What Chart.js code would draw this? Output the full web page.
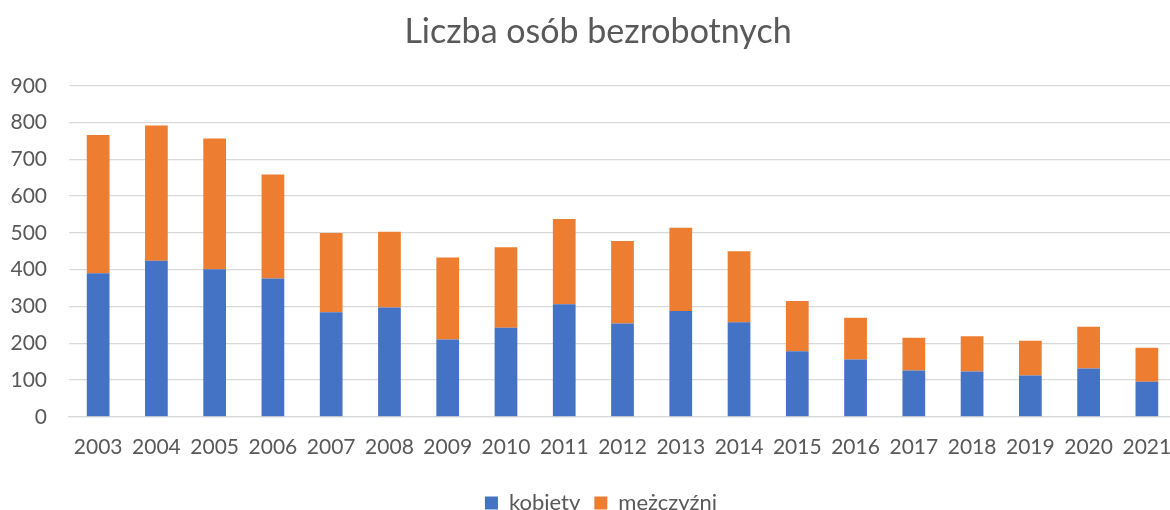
<!DOCTYPE html>
<html>
<head>
<meta charset="utf-8">
<script src="https://cdn.jsdelivr.net/npm/chart.js@4"></script>
<style>
  html, body { margin: 0; padding: 0; background: #fff; overflow: hidden; }
  #wrap { position: relative; width: 1176px; height: 524px; }
</style>
</head>
<body>
<div id="wrap"><canvas id="myChart" width="1176" height="524"></canvas></div>
<script>
const years = ['2003', '2004', '2005', '2006', '2007', '2008', '2009', '2010', '2011', '2012',
    '2013', '2014', '2015', '2016', '2017', '2018', '2019', '2020', '2021'];
const kobiety = [390, 424, 401, 376, 284, 297, 210, 242, 306, 254, 288, 257, 178, 156, 126, 123, 112, 131, 95];
const mezczyzni = [376, 368, 356, 283, 216, 206, 223, 219, 232, 224, 226, 193, 137, 113, 89, 96, 95, 114, 93];
const yMax = 900;
const yStep = 100;

const textColor = '#595959';
const fontFamily = 'Lato, "Open Sans", sans-serif';

// title and legend sit a bit right of the canvas centre in the original
const shiftBlocks = {
    id: 'shiftBlocks',
    afterLayout(chart) {
        if (chart.titleBlock) { chart.titleBlock.left += 20; }
        if (chart.legend) { chart.legend.left += 26; }
    }
};

const ctx = document.getElementById('myChart');
const myChart = new Chart(ctx, {
    type: 'bar',
    data: {
        labels: years,
        datasets: [
            {
                label: 'kobiety',
                data: kobiety,
                backgroundColor: '#4472C4',
                borderWidth: 0
            },
            {
                label: 'mężczyźni',
                data: mezczyzni,
                backgroundColor: '#ED7D31',
                borderWidth: 0
            }
        ]
    },
    options: {
        responsive: false,
        animation: false,
        devicePixelRatio: 1,
        categoryPercentage: 1,
        barPercentage: 0.39,
        plugins: {
            title: {
                display: true,
                text: 'Liczba osób bezrobotnych',
                color: textColor,
                font: { family: fontFamily, size: 34, weight: 'normal' },
                padding: { top: 12, bottom: 33 }
            },
            legend: {
                position: 'bottom',
                labels: {
                    color: textColor,
                    font: { family: fontFamily, size: 22 },
                    boxWidth: 13,
                    boxHeight: 13,
                    padding: 14
                }
            },
            tooltip: { enabled: false }
        },
        scales: {
            x: {
                stacked: true,
                grid: { display: false, drawTicks: false },
                border: { display: true, color: '#d9d9d9', width: 1.3 },
                ticks: {
                    color: textColor,
                    font: { family: fontFamily, size: 21 },
                    padding: 18,
                    maxRotation: 0
                },
                afterFit: (scale) => { scale.paddingLeft = 0; scale.paddingRight = 0; }
            },
            y: {
                stacked: true,
                min: 0,
                max: yMax,
                grid: { color: '#d9d9d9', lineWidth: 1.3, drawTicks: false },
                border: { display: false },
                ticks: {
                    stepSize: yStep,
                    color: textColor,
                    font: { family: fontFamily, size: 21 },
                    padding: 22
                },
                afterFit: (scale) => { scale.width = 69; }
            }
        }
    },
    plugins: [shiftBlocks]
});
</script>
</body>
</html>
